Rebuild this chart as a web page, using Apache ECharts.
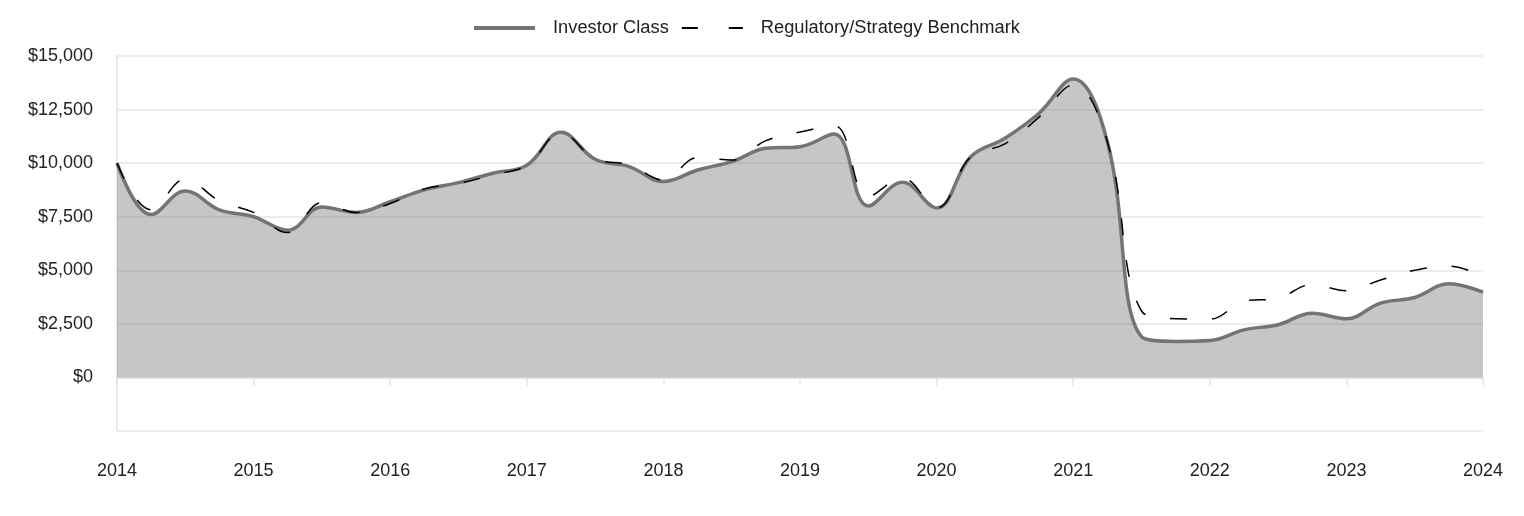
<!DOCTYPE html>
<html>
<head>
<meta charset="utf-8">
<script src="https://cdn.jsdelivr.net/npm/echarts@6/dist/echarts.min.js"></script>
<style>
  html, body { margin: 0; padding: 0; background: #fff; }
  #chart { width: 1524px; height: 516px; }
</style>
</head>
<body>
<div id="chart"></div>
<script>
// quarterly points, 2014 Q1 .. 2024 Q1
var quarters = [
  2014, 2014.25, 2014.5, 2014.75,
  2015, 2015.25, 2015.5, 2015.75,
  2016, 2016.25, 2016.5, 2016.75,
  2017, 2017.25, 2017.5, 2017.75,
  2018, 2018.25, 2018.5, 2018.75,
  2019, 2019.25, 2019.5, 2019.75,
  2020, 2020.25, 2020.5, 2020.75,
  2021, 2021.25, 2021.5, 2021.75,
  2022, 2022.25, 2022.5, 2022.75,
  2023, 2023.25, 2023.5, 2023.75,
  2024
];
var investorClass = [
  10000, 7600, 8700, 7820,
  7500, 6870, 7950, 7700,
  8200, 8750, 9090, 9530,
  9900, 11440, 10180, 9840,
  9140, 9680, 10070, 10690,
  10770, 11360, 8000, 9110,
  7910, 10300, 11160, 12330,
  13930, 11000, 1900, 1680,
  1720, 2220, 2460, 3000,
  2740, 3470, 3730, 4370,
  3980
];
var benchmark = [
  10000, 7820, 9250, 8240,
  7700, 6760, 8160, 7700,
  8120, 8800, 9050, 9450,
  9900, 11400, 10200, 9920,
  9220, 10250, 10150, 11050,
  11450, 11750, 8450, 9300,
  7910, 10300, 10900, 12150,
  13650, 11000, 3100, 2740,
  2720, 3550, 3700, 4330,
  4050, 4550, 5000, 5200,
  4700
];
var yearTicks = [2014, 2015, 2016, 2017, 2018, 2019, 2020, 2021, 2022, 2023, 2024];

function pairs(xs, ys) {
  return ys.map(function (v, i) { return [xs[i], v]; });
}

var myChart = echarts.init(document.getElementById("chart"));
var font = "Liberation Sans, Arial, sans-serif";

var option = {
  animation: false,
  textStyle: { fontFamily: font },
  legend: {
    top: 14,
    left: 467,
    itemWidth: 61,
    itemHeight: 20,
    itemGap: 12,
    // 图例里不要圆点，只留线
    itemStyle: { opacity: 0 },
    textStyle: { fontSize: 18.3, color: "#222", fontFamily: font, padding: [0, 0, 0, 13] },
    data: [
      { name: "Investor Class", lineStyle: { width: 4, color: "#747474" } },
      { name: "Regulatory/Strategy Benchmark", lineStyle: { width: 2, color: "#000", type: [16, 31] } }
    ]
  },
  grid: {
    left: 117,
    right: 41,
    top: 56,
    bottom: 85
  },
  xAxis: {
    type: "value",
    min: 2014,
    max: 2024,
    interval: 1,
    axisLine: { show: true, lineStyle: { color: "#e3e3e3", width: 1.5 } },
    axisTick: { show: true, length: 8, lineStyle: { color: "#e3e3e3", width: 1.5 } },
    axisLabel: {
      margin: 31,
      fontSize: 18,
      color: "#222",
      fontFamily: font,
      formatter: function (v) { return yearTicks.indexOf(v) >= 0 ? String(v) : ""; }
    },
    splitLine: { show: false }
  },
  yAxis: {
    type: "value",
    min: -2500,
    max: 15000,
    interval: 2500,
    axisLine: { show: true, lineStyle: { color: "#e3e3e3", width: 1.5 } },
    axisTick: { show: false },
    axisLabel: {
      margin: 24,
      fontSize: 18,
      color: "#222",
      fontFamily: font,
      formatter: function (v) {
        if (v < 0) return "";
        return "$" + v.toLocaleString("en-US");
      }
    },
    splitLine: { show: true, lineStyle: { color: "#e6e6e6", width: 1.5 } }
  },
  series: [
    {
      name: "Investor Class",
      type: "line",
      data: pairs(quarters, investorClass),
      symbol: "none",
      smooth: 0.4,
      lineStyle: { color: "#747474", width: 3.5 },
      itemStyle: { color: "#747474" },
      areaStyle: { color: "#808080", opacity: 0.45, origin: 0 },
      z: 2
    },
    {
      name: "Regulatory/Strategy Benchmark",
      type: "line",
      data: pairs(quarters, benchmark),
      symbol: "none",
      smooth: 0.4,
      lineStyle: { color: "#000", width: 1.5, type: [17, 25] },
      itemStyle: { color: "#000" },
      z: 3
    }
  ]
};
option && myChart.setOption(option);
</script>
</body>
</html>
